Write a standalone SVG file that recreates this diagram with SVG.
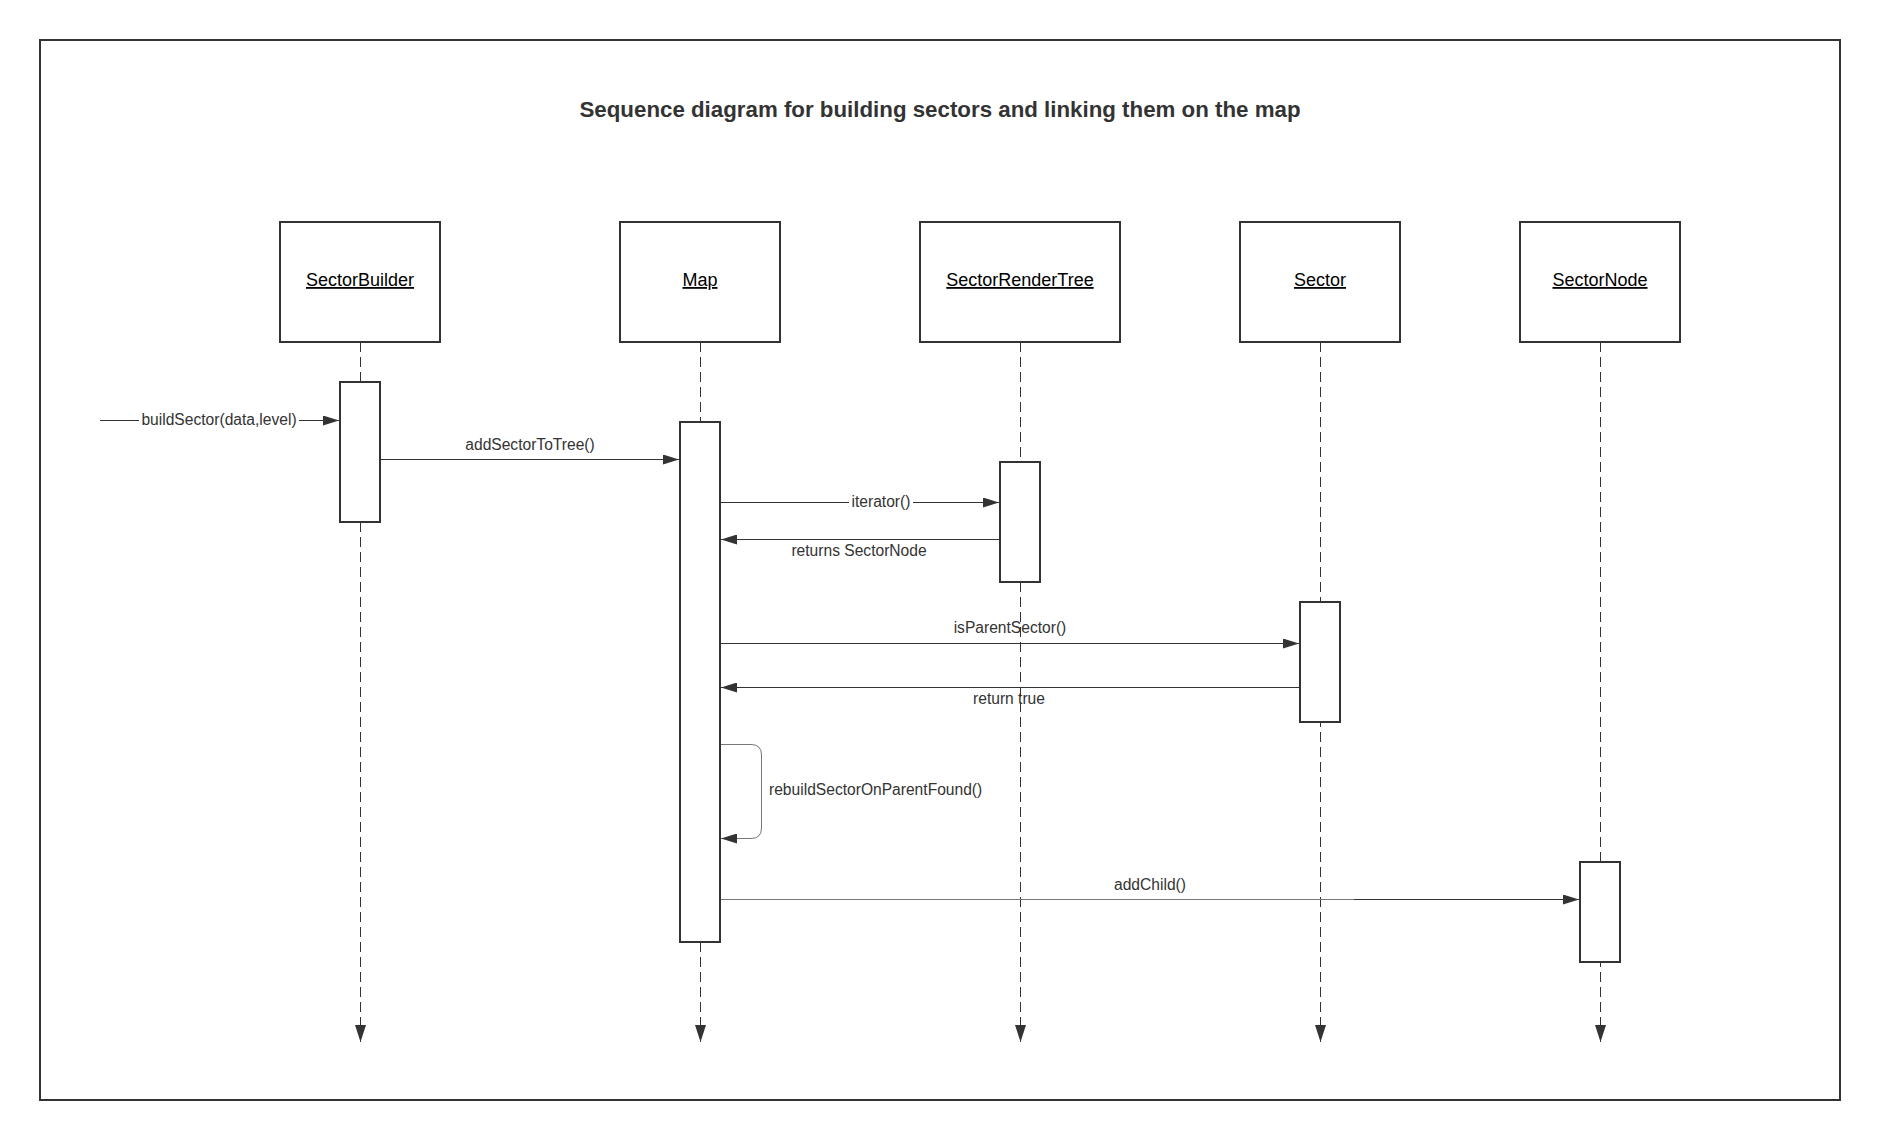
<svg xmlns="http://www.w3.org/2000/svg" width="1880" height="1140" viewBox="0 0 1880 1140">
  <defs>
    <marker id="arrow" markerUnits="userSpaceOnUse" markerWidth="16" markerHeight="10" refX="16" refY="5" orient="auto">
      <path d="M0,0 L16,5 L0,10 z" fill="#333333" stroke="none"/>
    </marker>
    <marker id="arrowDown" markerUnits="userSpaceOnUse" markerWidth="17" markerHeight="12" refX="17" refY="6" orient="auto">
      <path d="M0,0.5 L17,6 L0,11.5 z" fill="#333333" stroke="none"/>
    </marker>
    <style>
      .frame { fill: #ffffff; stroke: #333333; stroke-width: 2; }
      .title { font-family: "Liberation Sans", Arial, sans-serif; font-size: 22.3px; font-weight: bold; fill: #333333; text-anchor: middle; }
      .head { fill: #ffffff; stroke: #333333; stroke-width: 2; }
      .headText { font-family: "Liberation Sans", Arial, sans-serif; font-size: 18px; fill: #000000; text-anchor: middle; text-decoration: underline; }
      .bar { fill: #ffffff; stroke: #333333; stroke-width: 2; }
      .life { fill: none; stroke: #333333; stroke-width: 1; stroke-dasharray: 10 5; }
      .msg { fill: none; stroke: #333333; stroke-width: 1; }
      .msgLight { fill: none; stroke: #777777; stroke-width: 1; }
      .label { font-family: "Liberation Sans", Arial, sans-serif; font-size: 15.6px; fill: #333333; text-anchor: middle; }
      .labelStart { font-family: "Liberation Sans", Arial, sans-serif; font-size: 15.6px; fill: #333333; text-anchor: start; }
    </style>
  </defs>

  <rect x="0" y="0" width="1880" height="1140" fill="#ffffff"/>
  <rect class="frame" x="40" y="40" width="1800" height="1060"/>
  <text class="title" x="940" y="117">Sequence diagram for building sectors and linking them on the map</text>

  <!-- dashed lifelines under each head -->
  <g id="lifelines">
    <line class="life" x1="360.5" y1="342" x2="360.5" y2="1042" marker-end="url(#arrowDown)"/>
    <line class="life" x1="700.5" y1="342" x2="700.5" y2="1042" marker-end="url(#arrowDown)"/>
    <line class="life" x1="1020.5" y1="342" x2="1020.5" y2="1042" marker-end="url(#arrowDown)"/>
    <line class="life" x1="1320.5" y1="342" x2="1320.5" y2="1042" marker-end="url(#arrowDown)"/>
    <line class="life" x1="1600.5" y1="342" x2="1600.5" y2="1042" marker-end="url(#arrowDown)"/>
  </g>

  <g id="sectorBuilder">
    <rect class="head" x="280" y="222" width="160" height="120"/>
    <text class="headText" x="360" y="286">SectorBuilder</text>
    <rect class="bar" x="340" y="382" width="40" height="140"/>
  </g>

  <g id="map">
    <rect class="head" x="620" y="222" width="160" height="120"/>
    <text class="headText" x="700" y="286">Map</text>
    <rect class="bar" x="680" y="422" width="40" height="520"/>
  </g>

  <g id="sectorRenderTree">
    <rect class="head" x="920" y="222" width="200" height="120"/>
    <text class="headText" x="1020" y="286">SectorRenderTree</text>
    <rect class="bar" x="1000" y="462" width="40" height="120"/>
  </g>

  <g id="sector">
    <rect class="head" x="1240" y="222" width="160" height="120"/>
    <text class="headText" x="1320" y="286">Sector</text>
    <rect class="bar" x="1300" y="602" width="40" height="120"/>
  </g>

  <g id="sectorNode">
    <rect class="head" x="1520" y="222" width="160" height="120"/>
    <text class="headText" x="1600" y="286">SectorNode</text>
    <rect class="bar" x="1580" y="862" width="40" height="100"/>
  </g>

  <!-- messages -->
  <g id="connectors">
    <line class="msg" x1="100" y1="420.5" x2="139" y2="420.5"/>
    <line class="msg" x1="299" y1="420.5" x2="339" y2="420.5" marker-end="url(#arrow)"/>
    <text class="label" x="219" y="425">buildSector(data,level)</text>

    <line class="msg" x1="381" y1="459.5" x2="679" y2="459.5" marker-end="url(#arrow)"/>
    <text class="label" x="530" y="450">addSectorToTree()</text>

    <line class="msg" x1="721" y1="502.5" x2="849" y2="502.5"/>
    <line class="msg" x1="913" y1="502.5" x2="999" y2="502.5" marker-end="url(#arrow)"/>
    <text class="label" x="881" y="507">iterator()</text>

    <line class="msg" x1="999" y1="539.5" x2="721" y2="539.5" marker-end="url(#arrow)"/>
    <text class="label" x="859" y="556">returns SectorNode</text>

    <line class="msg" x1="721" y1="643.5" x2="1299" y2="643.5" marker-end="url(#arrow)"/>
    <text class="label" x="1010" y="633">isParentSector()</text>

    <line class="msg" x1="1299" y1="687.5" x2="721" y2="687.5" marker-end="url(#arrow)"/>
    <text class="label" x="1009" y="704">return true</text>

    <path class="msgLight" d="M721,744.5 H751 Q761.5,744.5 761.5,755 V828 Q761.5,838.5 751,838.5 H721" marker-end="url(#arrow)"/>
    <text class="labelStart" x="769" y="795">rebuildSectorOnParentFound()</text>

    <line class="msgLight" x1="721" y1="899.5" x2="1354" y2="899.5"/>
    <line class="msg" x1="1354" y1="899.5" x2="1579" y2="899.5" marker-end="url(#arrow)"/>
    <text class="label" x="1150" y="890">addChild()</text>
  </g>
</svg>
